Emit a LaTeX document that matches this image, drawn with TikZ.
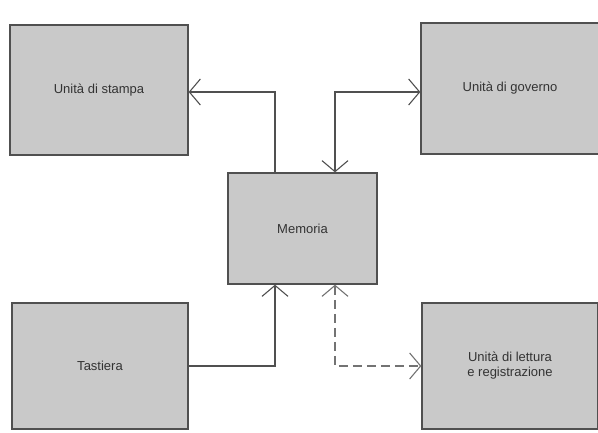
\documentclass[tikz,border=0pt]{standalone}
\usepackage{fontspec}
\setmainfont{Liberation Sans}
\usetikzlibrary{arrows.meta}
\definecolor{boxfill}{HTML}{C9C9C9}
\definecolor{boxline}{HTML}{505050}
\definecolor{wire}{HTML}{505050}
\tikzset{
  unit/.style={draw=boxline, line width=1.3pt, fill=boxfill, inner sep=0pt,
    font=\fontsize{13}{15}\selectfont, text=black!80, align=center},
  barb/.tip={Straight Barb[length=11pt,width=26pt,line width=1.1pt]},
  wirearrow/.style={draw=wire, line width=1.1pt, arrows={-barb}},
  dualarrow/.style={draw=wire, line width=1.1pt, arrows={barb-barb}},
  dashwire/.style={draw=wire!80, dash pattern=on 9pt off 5pt}
}
\begin{document}
\begin{tikzpicture}[x=1pt,y=-1pt]
\useasboundingbox (0,0) rectangle (598,432);
\node[unit, minimum width=178pt, minimum height=130pt] (stampa) at (99,90) {Unità di stampa};
\node[unit, minimum width=178pt, minimum height=131pt] (governo) at (510,88.5) {Unità di governo};
\node[unit, minimum width=149pt, minimum height=111pt] (mem) at (302.5,228.5) {Memoria};
\node[unit, minimum width=176pt, minimum height=126pt] (tastiera) at (100,366) {Tastiera};
\node[unit, minimum width=176pt, minimum height=126pt] (lettura) at (510,366) {Unità di lettura\\e registrazione};
\coordinate (ja) at (275,92);
\coordinate (jb) at (335,92);
\draw[wirearrow] (mem.north -| ja) -- (ja) -- (stampa.east |- ja);
\draw[dualarrow] (mem.north -| jb) -- (jb) -- (governo.west |- jb);
\draw[wirearrow] (tastiera.east) -| (mem.south -| ja);
\draw[dualarrow, dashwire] (mem.south -| jb) |- (lettura.west);
\end{tikzpicture}
\end{document}
